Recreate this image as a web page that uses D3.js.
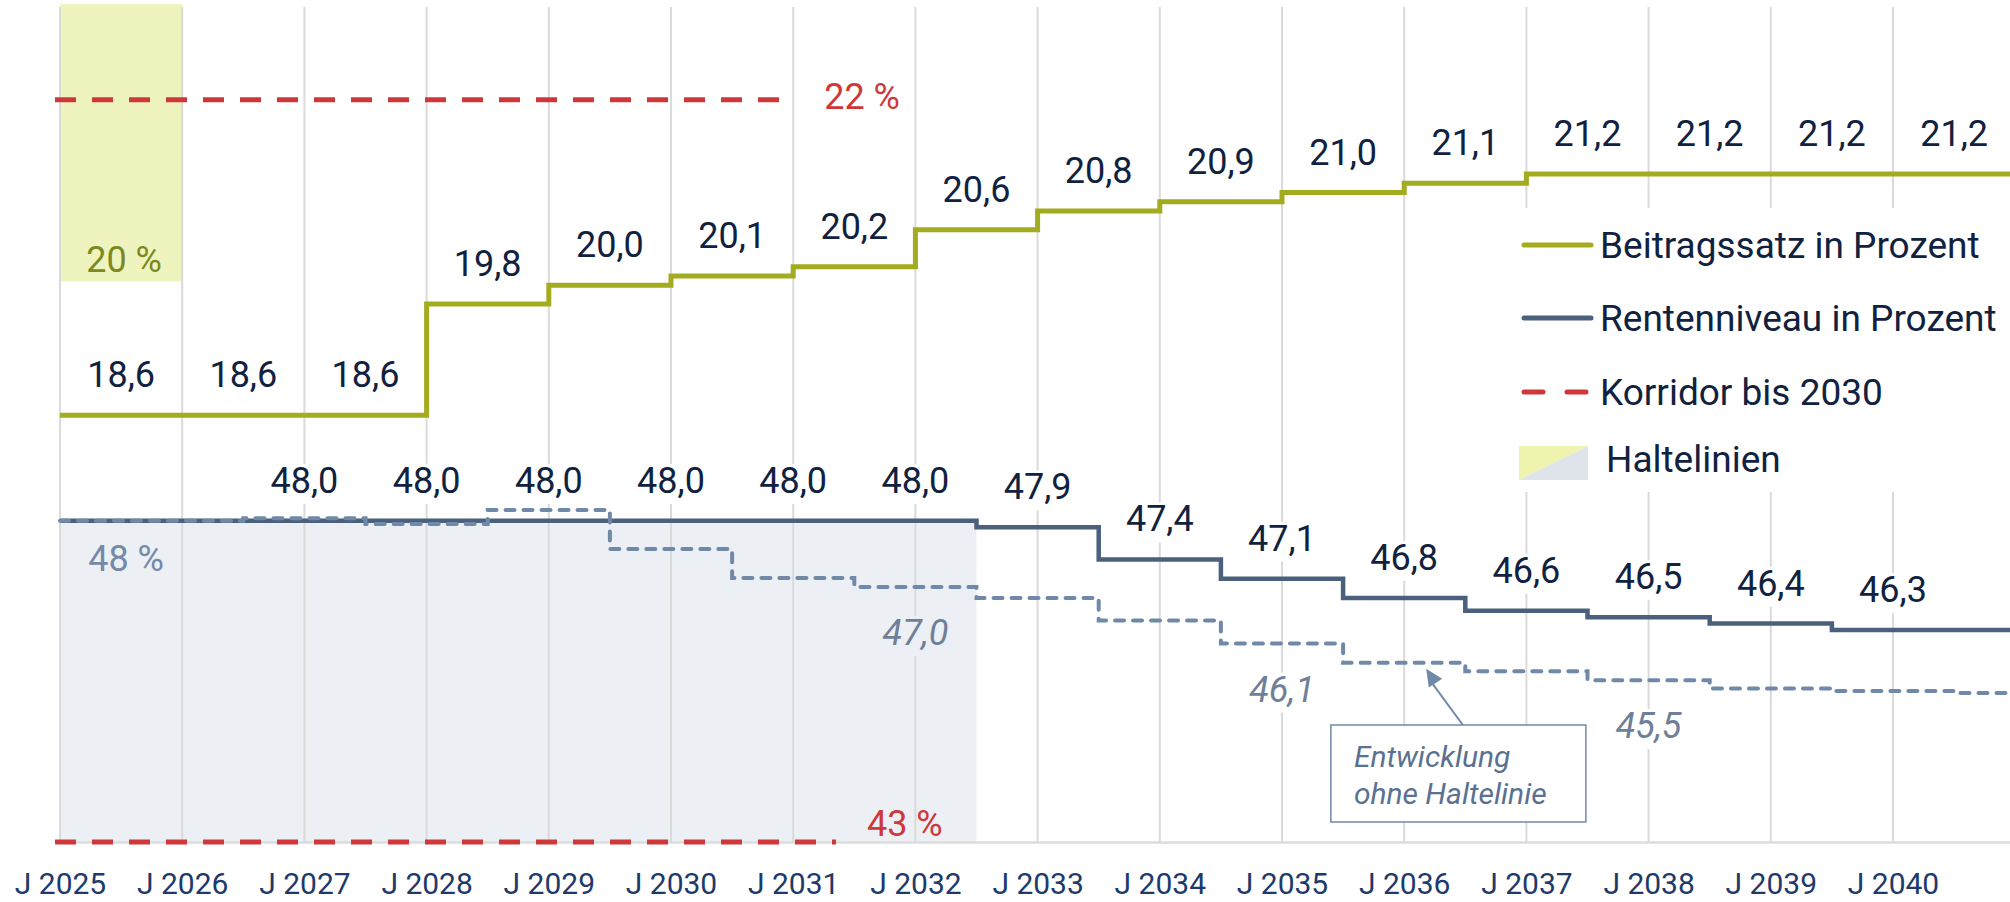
<!DOCTYPE html>
<html lang="de">
<head>
<meta charset="utf-8">
<script src="https://cdn.jsdelivr.net/npm/d3@7"></script>
<style>
  body { margin: 0; background: #fff; }
  svg { display: block; font-family: Roboto, "Noto Sans", sans-serif; }
</style>
</head>
<body>
<svg id="chart"></svg>
<script>
// Jahre (x-Achse) und Beitragssatz je Jahr
const jahre = [2025, 2026, 2027, 2028, 2029, 2030, 2031, 2032, 2033, 2034, 2035, 2036, 2037, 2038, 2039, 2040];
const beitragssatz = [18.6, 18.6, 18.6, 19.8, 20.0, 20.1, 20.2, 20.6, 20.8, 20.9, 21.0, 21.1, 21.2, 21.2, 21.2, 21.2];

// Rentenniveau: Wert gilt jeweils von Juli des Vorjahres bis Juni
const rentenJahre = [2025, 2026, 2027, 2028, 2029, 2030, 2031, 2032, 2033, 2034, 2035, 2036, 2037, 2038, 2039, 2040, 2041];
const rentenniveau = [48.0, 48.0, 48.0, 48.0, 48.0, 48.0, 48.0, 48.0, 47.9, 47.4, 47.1, 46.8, 46.6, 46.5, 46.4, 46.3, 46.3];
const ohneHaltelinie = [48.0, 48.0, 48.04, 47.95, 48.17, 47.56, 47.11, 46.97, 46.8, 46.45, 46.09, 45.79, 45.66, 45.52, 45.39, 45.35, 45.32];
const rentenLabelJahre = [2027, 2028, 2029, 2030, 2031, 2032, 2033, 2034, 2035, 2036, 2037, 2038, 2039, 2040];
const ohneLabelJahre = [2032, 2035, 2038];

// Haltelinien (Beitragssatz, Rentenniveau) und Korridor
const halteWerte = [20, 48];
const halteVon = [2025, 2025];
const halteBis = [2026, 2032.5];
const korridorWerte = [22, 43];
const korridorBis = [2031, 2031.35];

const legendeTexte = ['Beitragssatz in Prozent', 'Rentenniveau in Prozent', 'Korridor bis 2030', 'Haltelinien'];

const width = 2010, height = 902;
const gruen = '#a3ab1f', blau = '#4b607c', blauHell = '#7189a9', rot = '#cf383b';
const textDunkel = '#10223f', bandBlau = '#eceff4', bandGelb = '#eff3bd';

const svg = d3.select('#chart').attr('width', width).attr('height', height);

const x = d3.scaleLinear().domain([2025, 2041]).range([60, 2015.2]);
const yBeitrag = d3.scaleLinear().domain([14, 23]).range([842, 7]);
const yRente = d3.scaleLinear().domain([43, 56]).range([842, 7]);
const skalen = [yBeitrag, yRente];

const de = d3.formatLocale({ decimal: ',', thousands: '.', grouping: [3], currency: ['', ' €'] });
const fmt = de.format('.1f');

// Haltelinien-Flächen
svg.append('rect')
  .attr('x', x(halteVon[0])).attr('y', 4)
  .attr('width', x(halteBis[0]) - x(halteVon[0]))
  .attr('height', yBeitrag(halteWerte[0]) - 8)
  .attr('fill', bandGelb);
svg.append('rect')
  .attr('x', x(halteVon[1])).attr('y', yRente(halteWerte[1]))
  .attr('width', x(halteBis[1]) - x(halteVon[1]))
  .attr('height', yRente(43) - yRente(halteWerte[1]))
  .attr('fill', bandBlau);

// Gitterlinien
svg.append('g')
  .selectAll('line')
  .data(jahre)
  .enter()
  .append('line')
  .attr('x1', (d) => x(d)).attr('x2', (d) => x(d))
  .attr('y1', 7).attr('y2', 842)
  .attr('stroke', '#dadada')
  .attr('stroke-width', 2);

// x-Achse
const achse = svg.append('g')
  .attr('transform', 'translate(0,842)')
  .call(d3.axisBottom(x).tickValues(jahre).tickFormat((d) => 'J ' + d).tickSize(0).tickPadding(31));
achse.attr('font-family', null).attr('font-size', null);
achse.select('.domain').attr('stroke', '#dcdcdc').attr('stroke-width', 2.5);
achse.selectAll('text').style('font-size', '30px').attr('fill', '#1d3a6b');

// Korridor-Linien
korridorWerte.forEach((w, i) => {
  const yy = skalen[i](w);
  svg.append('line')
    .attr('x1', x(2025) - 5).attr('x2', x(korridorBis[i]))
    .attr('y1', yy).attr('y2', yy)
    .attr('stroke', rot)
    .attr('stroke-width', 5)
    .attr('stroke-dasharray', '21 16');
  svg.append('text')
    .attr('x', x(korridorBis[i]) + 31)
    .attr('y', Math.min(yy + 9, 836))
    .attr('fill', rot)
    .style('font-size', '36px')
    .text(w + ' %');
});

// Stufenlinien
const stufeBeitrag = jahre.map((j, i) => [j, beitragssatz[i]]);
stufeBeitrag.push([2041, beitragssatz[beitragssatz.length - 1]]);
const stufeRente = rentenJahre.map((j, i) => [Math.max(2025, j - 0.5), rentenniveau[i]]);
stufeRente.push([2041.5, rentenniveau[rentenniveau.length - 1]]);
const stufeOhne = rentenJahre.map((j, i) => [Math.max(2025, j - 0.5), ohneHaltelinie[i]]);
stufeOhne.push([2041.5, ohneHaltelinie[ohneHaltelinie.length - 1]]);

const lineB = d3.line().x((d) => x(d[0])).y((d) => yBeitrag(d[1])).curve(d3.curveStepAfter);
const lineR = d3.line().x((d) => x(d[0])).y((d) => yRente(d[1])).curve(d3.curveStepAfter);

svg.append('path')
  .attr('d', lineB(stufeBeitrag))
  .attr('fill', 'none').attr('stroke', gruen).attr('stroke-width', 5);
svg.append('path')
  .attr('d', lineR(stufeRente))
  .attr('fill', 'none').attr('stroke', blau).attr('stroke-width', 4.5);
svg.append('path')
  .attr('d', lineR(stufeOhne))
  .attr('fill', 'none').attr('stroke', blauHell).attr('stroke-width', 4)
  .attr('stroke-linecap', 'round')
  .attr('stroke-dasharray', '9 9');

// Beschriftung mit Hintergrund (unterbricht die Gitterlinien)
function beschrifte(xPos, yBase, text, farbe, hintergrund, kursiv) {
  const g = svg.append('g');
  const t = g.append('text')
    .attr('x', xPos).attr('y', yBase)
    .attr('text-anchor', 'middle')
    .attr('fill', farbe)
    .style('font-size', '36px')
    .style('font-style', kursiv ? 'italic' : 'normal')
    .text(text);
  if (hintergrund) {
    const bb = t.node().getBBox();
    g.insert('rect', 'text')
      .attr('x', bb.x - 5).attr('y', bb.y + 4)
      .attr('width', bb.width + 10).attr('height', bb.height - 2)
      .attr('fill', hintergrund);
  }
}

jahre.forEach((j, i) => {
  beschrifte(x(j + 0.5), yBeitrag(beitragssatz[i]) - 28, fmt(beitragssatz[i]), textDunkel, null, false);
});
rentenLabelJahre.forEach((j) => {
  const v = rentenniveau[rentenJahre.indexOf(j)];
  beschrifte(x(j), yRente(v) - 28, fmt(v), textDunkel, '#fff', false);
});
ohneLabelJahre.forEach((j) => {
  const v = ohneHaltelinie[rentenJahre.indexOf(j)];
  beschrifte(x(j), yRente(v) + 58, fmt(v), '#6f7f98', j < halteBis[1] ? bandBlau : '#fff', true);
});

// Haltelinien-Beschriftung
svg.append('text')
  .attr('x', x(2025.5) + 3).attr('y', yBeitrag(halteWerte[0]) - 13)
  .attr('text-anchor', 'middle').attr('fill', '#7d891d')
  .style('font-size', '36px')
  .text(halteWerte[0] + ' %');
svg.append('text')
  .attr('x', x(2025.5) + 5).attr('y', yRente(halteWerte[1]) + 50)
  .attr('text-anchor', 'middle').attr('fill', '#7589a8')
  .style('font-size', '36px')
  .text(halteWerte[1] + ' %');

// Legende
const leg = svg.append('g');
leg.append('rect').attr('x', 1505).attr('y', 208).attr('width', 505).attr('height', 284).attr('fill', '#fff');
const legY = [245, 318, 392, 463];
leg.append('line').attr('x1', 1524).attr('x2', 1591).attr('y1', legY[0]).attr('y2', legY[0])
  .attr('stroke', gruen).attr('stroke-width', 5).attr('stroke-linecap', 'round');
leg.append('line').attr('x1', 1524).attr('x2', 1591).attr('y1', legY[1]).attr('y2', legY[1])
  .attr('stroke', blau).attr('stroke-width', 5).attr('stroke-linecap', 'round');
leg.append('line').attr('x1', 1524).attr('x2', 1586).attr('y1', legY[2]).attr('y2', legY[2])
  .attr('stroke', rot).attr('stroke-width', 5).attr('stroke-linecap', 'round')
  .attr('stroke-dasharray', '19 24');
leg.append('polygon').attr('points', '1519,446 1588,446 1519,480').attr('fill', '#eef3ae');
leg.append('polygon').attr('points', '1588,446 1588,480 1519,480').attr('fill', '#dfe4eb');
leg.selectAll('text.leg')
  .data(legendeTexte)
  .enter()
  .append('text')
  .attr('class', 'leg')
  .attr('x', (d, i) => (i === 3 ? 1606 : 1600))
  .attr('y', (d, i) => (i === 3 ? 472 : legY[i] + 13))
  .attr('fill', textDunkel)
  .style('font-size', '37px')
  .text((d) => d);

// Hinweis "Entwicklung ohne Haltelinie"
const hinweis = svg.append('g');
const pfeilSpitzeX = x(2036.18);
const pfeilSpitzeY = yRente(ohneHaltelinie[rentenJahre.indexOf(2036)]) + 6;
hinweis.append('line')
  .attr('x1', x(2036.48)).attr('y1', 725)
  .attr('x2', pfeilSpitzeX + 5).attr('y2', pfeilSpitzeY + 13)
  .attr('stroke', blauHell).attr('stroke-width', 2);
const ang = Math.atan2(725 - pfeilSpitzeY, x(2036.48) - pfeilSpitzeX);
const pl = 17, pw = 8;
const bx = pfeilSpitzeX + pl * Math.cos(ang), by = pfeilSpitzeY + pl * Math.sin(ang);
hinweis.append('polygon')
  .attr('points', [
    [pfeilSpitzeX, pfeilSpitzeY],
    [bx + pw * Math.sin(ang), by - pw * Math.cos(ang)],
    [bx - pw * Math.sin(ang), by + pw * Math.cos(ang)]
  ].map((p) => p.join(',')).join(' '))
  .attr('fill', blauHell);
hinweis.append('rect')
  .attr('x', x(2035.4)).attr('y', 725).attr('width', 255).attr('height', 97)
  .attr('fill', '#fff').attr('stroke', blauHell).attr('stroke-width', 1.5);
hinweis.append('text')
  .attr('x', x(2035.4) + 23).attr('y', 767)
  .attr('fill', '#5a7192').style('font-size', '30px').style('font-style', 'italic')
  .text('Entwicklung');
hinweis.append('text')
  .attr('x', x(2035.4) + 23).attr('y', 804)
  .attr('fill', '#5a7192').style('font-size', '30px').style('font-style', 'italic')
  .text('ohne Haltelinie');
</script>
</body>
</html>
